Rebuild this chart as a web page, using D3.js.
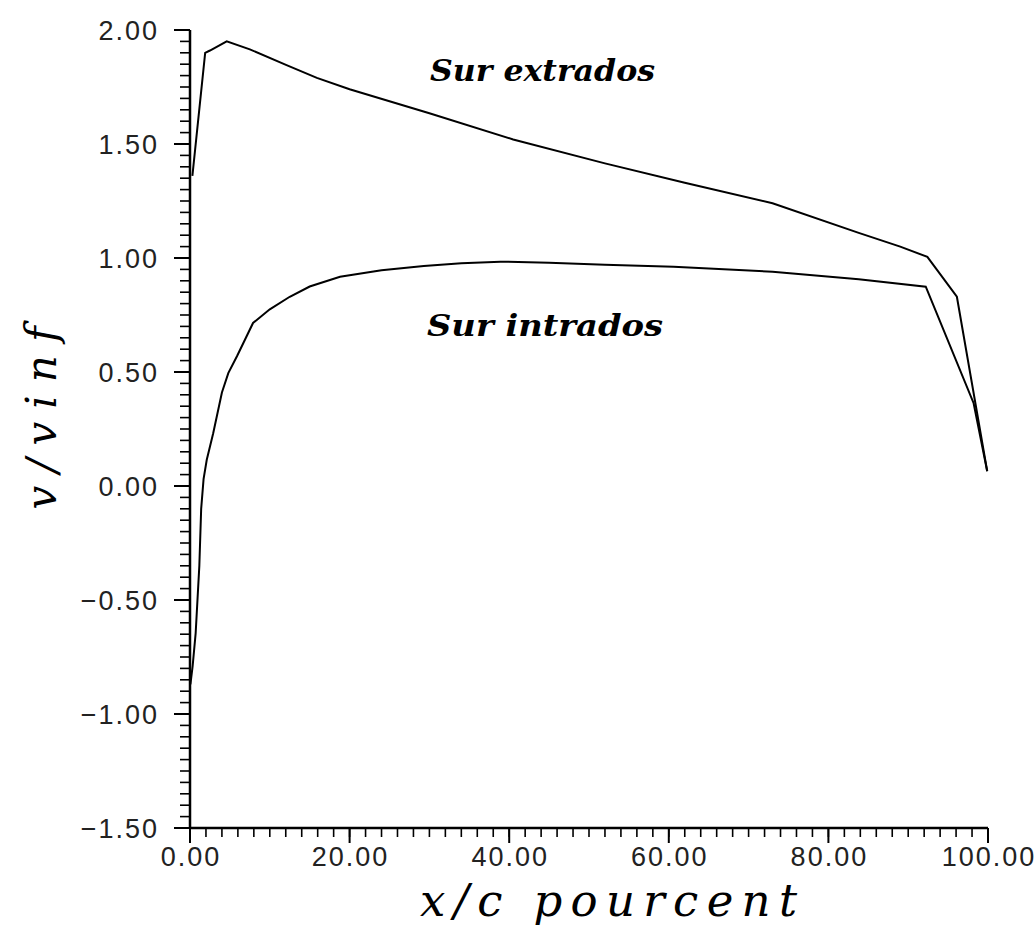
<!DOCTYPE html>
<html>
<head>
<meta charset="utf-8">
<script src="https://cdn.jsdelivr.net/npm/d3@7"></script>
<style>
  body { margin: 0; background: #fff; }
  svg { display: block; }
</style>
</head>
<body>
<div id="chart"></div>
<script>
// Upper surface (extrados): x/c in percent, v/vinf
var extradosX = [0.3, 1.9, 2.5, 4.6, 7.5, 12.1, 15.9, 20, 30, 40.5, 52, 62, 73, 83.8, 89, 92.4, 96.1, 99.9];
var extradosV = [1.36, 1.90, 1.91, 1.95, 1.915, 1.846, 1.79, 1.74, 1.635, 1.52, 1.415, 1.33, 1.24, 1.11, 1.05, 1.005, 0.83, 0.065];

// Lower surface (intrados)
var intradosX = [0.05, 0.33, 0.71, 1.17, 1.4, 1.7, 2.1, 2.9, 4.0, 4.8, 5.9, 7.9, 10, 12.5, 15, 18.8, 24, 29.3, 34, 38.9, 45, 52, 60.6, 73, 83.8, 92.2, 98.2, 99.9];
var intradosV = [-0.87, -0.79, -0.645, -0.35, -0.1, 0.03, 0.115, 0.23, 0.41, 0.495, 0.57, 0.715, 0.775, 0.83, 0.875, 0.918, 0.946, 0.965, 0.977, 0.984, 0.979, 0.97, 0.962, 0.94, 0.907, 0.874, 0.363, 0.065];

// Axis ticks
var xTicks = [0, 20, 40, 60, 80, 100];
var xTickLabels = ["0.00", "20.00", "40.00", "60.00", "80.00", "100.00"];
var yTicks = [-1.5, -1.0, -0.5, 0, 0.5, 1.0, 1.5, 2.0];
var yTickLabels = ["\u22121.50", "\u22121.00", "\u22120.50", "0.00", "0.50", "1.00", "1.50", "2.00"];

var width = 1035, height = 927;

var x = d3.scaleLinear().domain([0, 100]).range([190, 988]);
var y = d3.scaleLinear().domain([-1.5, 2.0]).range([828, 30]);

var svg = d3.select("#chart").append("svg")
  .attr("width", width)
  .attr("height", height);

// minor ticks
var xMinor = d3.range(0, 100.001, 2);
var yMinor = d3.range(-1.5, 2.0001, 0.05);

var axes = svg.append("g").attr("stroke", "#000");

axes.selectAll(".xminor").data(xMinor).enter().append("line")
  .attr("x1", function (d) { return x(d); })
  .attr("x2", function (d) { return x(d); })
  .attr("y1", y(-1.5))
  .attr("y2", y(-1.5) + 9)
  .attr("stroke-width", 1.6);

axes.selectAll(".xmajor").data(xTicks).enter().append("line")
  .attr("x1", function (d) { return x(d); })
  .attr("x2", function (d) { return x(d); })
  .attr("y1", y(-1.5))
  .attr("y2", y(-1.5) + 15)
  .attr("stroke-width", 2);

axes.selectAll(".yminor").data(yMinor).enter().append("line")
  .attr("x1", x(0) - 10)
  .attr("x2", x(0))
  .attr("y1", function (d) { return y(d); })
  .attr("y2", function (d) { return y(d); })
  .attr("stroke-width", 1.6);

axes.selectAll(".ymajor").data(yTicks).enter().append("line")
  .attr("x1", x(0) - 16)
  .attr("x2", x(0))
  .attr("y1", function (d) { return y(d); })
  .attr("y2", function (d) { return y(d); })
  .attr("stroke-width", 2);

// axis lines
axes.append("line")
  .attr("x1", x(0)).attr("x2", x(100))
  .attr("y1", y(-1.5)).attr("y2", y(-1.5))
  .attr("stroke-width", 2.5);
axes.append("line")
  .attr("x1", x(0)).attr("x2", x(0))
  .attr("y1", y(-1.5)).attr("y2", y(2.0))
  .attr("stroke-width", 2.5);

// tick labels
svg.selectAll(".xlab").data(xTicks).enter().append("text")
  .attr("x", function (d) { return x(d) + 1; })
  .attr("y", 866)
  .attr("text-anchor", "middle")
  .style("font-family", "'Liberation Sans', Arial, sans-serif")
  .style("font-size", "27px")
  .style("letter-spacing", "2px")
  .style("fill", "#222")
  .text(function (d, i) { return xTickLabels[i]; });

svg.selectAll(".ylab").data(yTicks).enter().append("text")
  .attr("x", 159)
  .attr("y", function (d) { return y(d); })
  .attr("dy", "0.36em")
  .attr("text-anchor", "end")
  .style("font-family", "'Liberation Sans', Arial, sans-serif")
  .style("font-size", "27px")
  .style("letter-spacing", "2px")
  .style("fill", "#222")
  .text(function (d, i) { return yTickLabels[i]; });

// curves
var line = d3.line()
  .x(function (d) { return x(d[0]); })
  .y(function (d) { return y(d[1]); });

var extrados = d3.zip(extradosX, extradosV);
var intrados = d3.zip(intradosX, intradosV);

svg.append("path")
  .datum(extrados)
  .attr("d", line)
  .attr("fill", "none")
  .attr("stroke", "#000")
  .attr("stroke-width", 2);

svg.append("path")
  .datum(intrados)
  .attr("d", line)
  .attr("fill", "none")
  .attr("stroke", "#000")
  .attr("stroke-width", 2);

// curve labels
svg.append("text")
  .attr("x", 430).attr("y", 81)
  .attr("textLength", 225).attr("lengthAdjust", "spacingAndGlyphs")
  .style("font-family", "'DejaVu Serif', serif")
  .style("font-style", "italic")
  .style("font-weight", "bold")
  .style("font-size", "29px")
  .text("Sur extrados");

svg.append("text")
  .attr("x", 427).attr("y", 336)
  .attr("textLength", 236).attr("lengthAdjust", "spacingAndGlyphs")
  .style("font-family", "'DejaVu Serif', serif")
  .style("font-style", "italic")
  .style("font-weight", "bold")
  .style("font-size", "29px")
  .text("Sur intrados");

// axis titles
svg.append("text")
  .attr("x", 420).attr("y", 916)
  .attr("textLength", 377).attr("lengthAdjust", "spacing")
  .style("font-family", "'DejaVu Serif', serif")
  .style("font-style", "italic")
  .style("font-size", "45px")
  .text("x/c pourcent");

svg.append("text")
  .attr("transform", "translate(56,418) rotate(-90)")
  .attr("text-anchor", "middle")
  .attr("textLength", 183).attr("lengthAdjust", "spacing")
  .style("font-family", "'DejaVu Serif', serif")
  .style("font-style", "italic")
  .style("font-size", "42px")
  .text("v/vinf");
</script>
</body>
</html>
